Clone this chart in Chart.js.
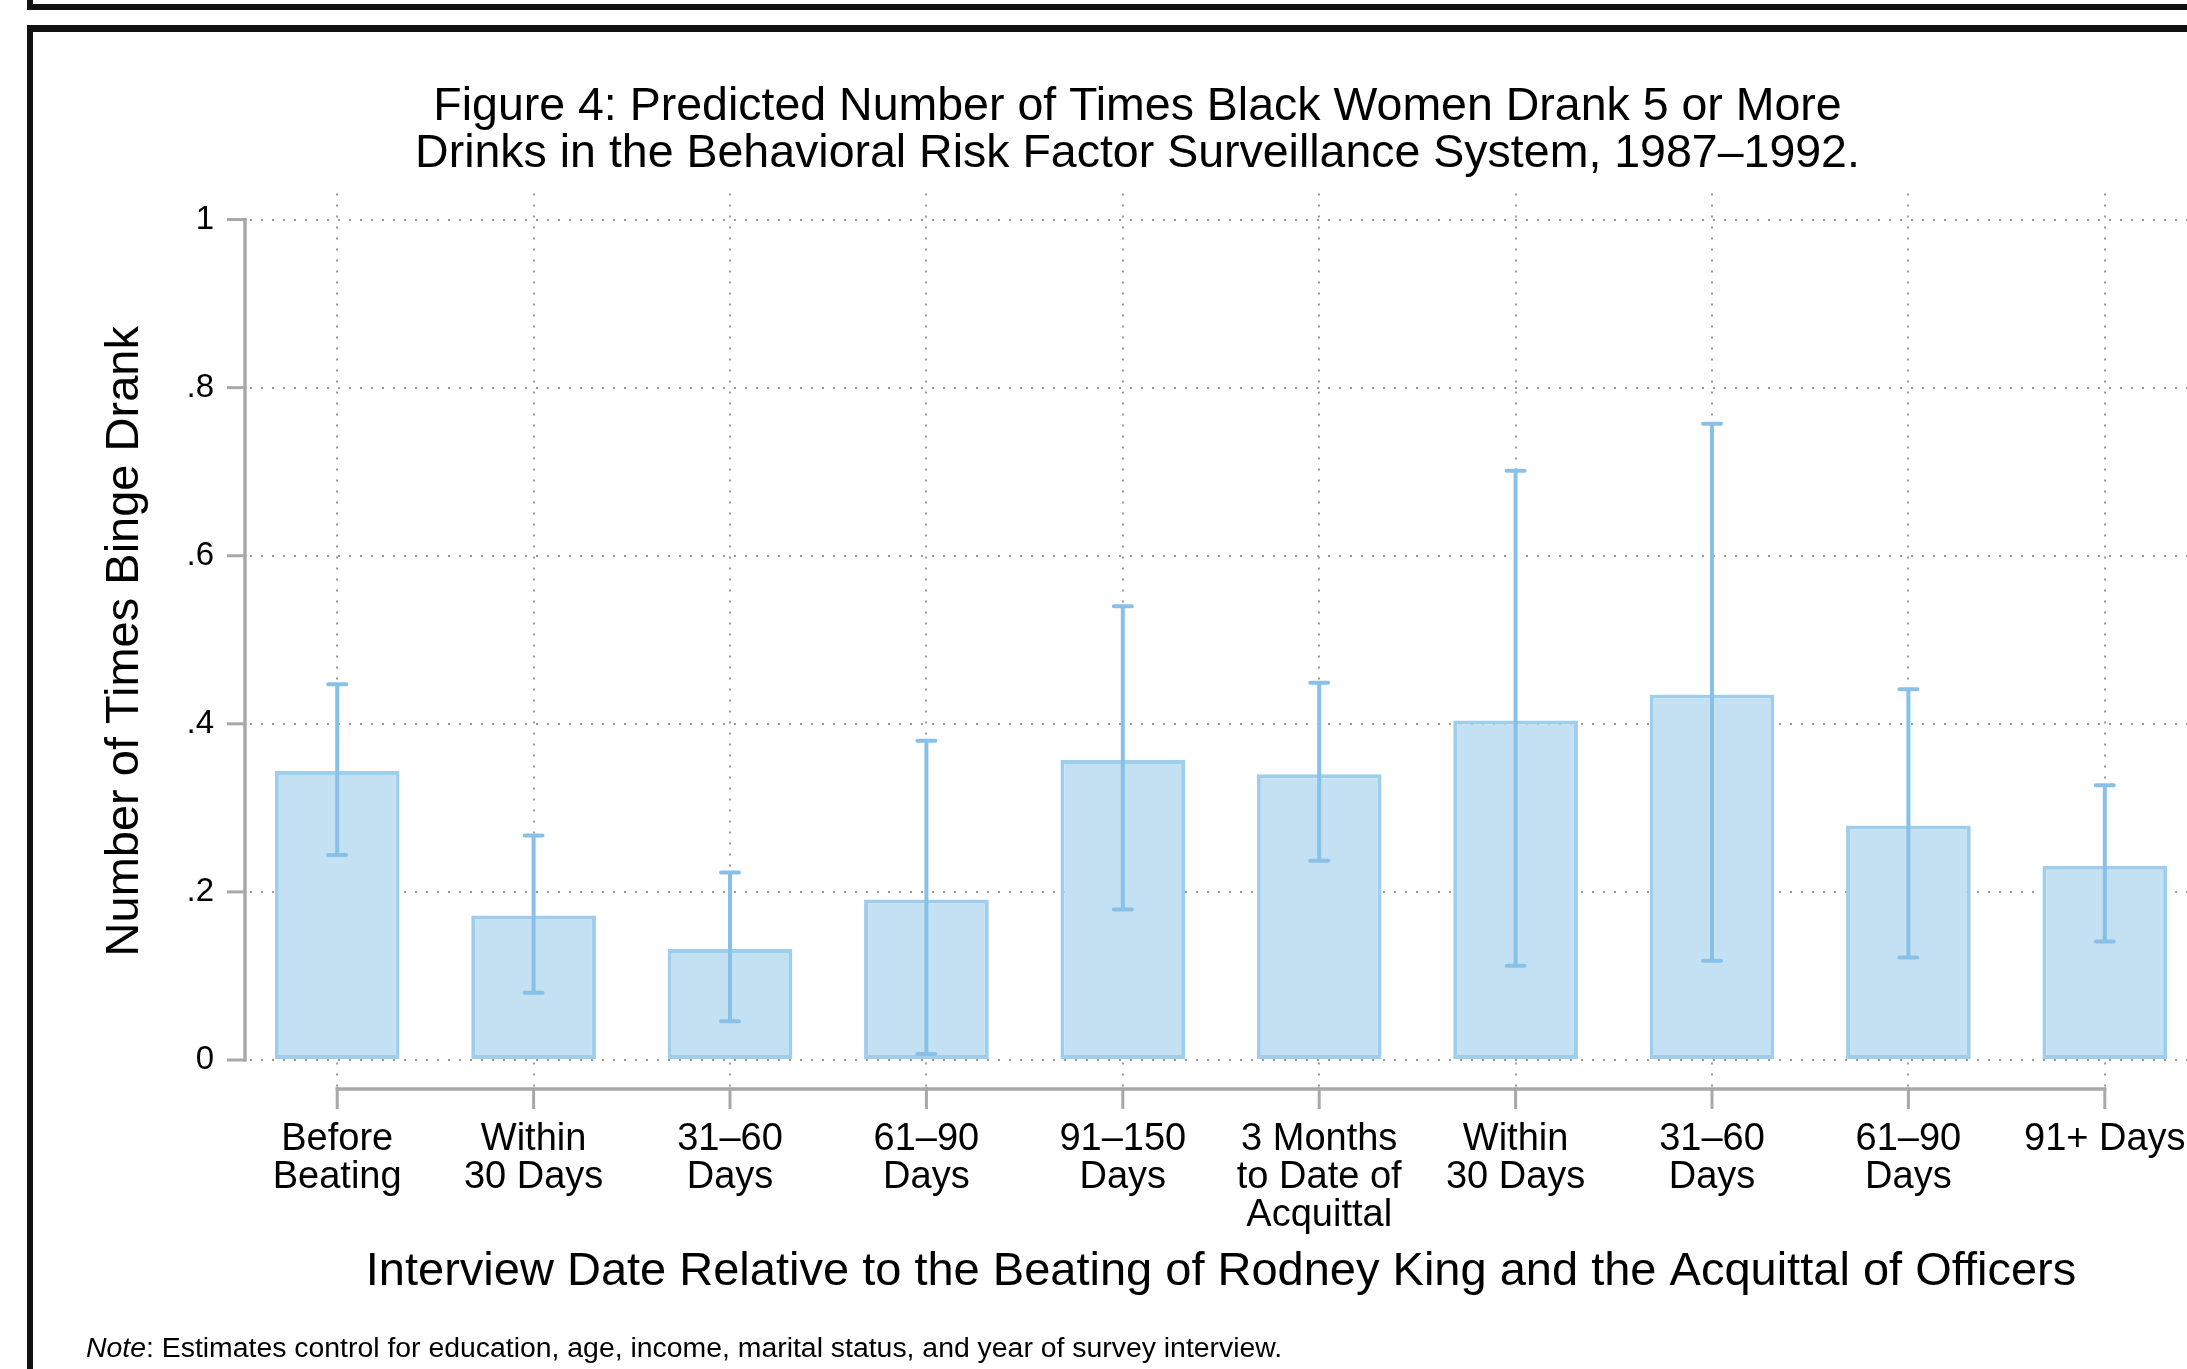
<!DOCTYPE html>
<html>
<head>
<meta charset="utf-8">
<script src="https://cdn.jsdelivr.net/npm/chart.js@4/dist/chart.umd.min.js"></script>
<style>
  html, body { margin: 0; padding: 0; background: #fff; overflow: hidden; }
  body { width: 2187px; height: 1369px; position: relative; }
  #chart { position: absolute; left: 0; top: 0; }
  .rule { position: absolute; background: #111; }
  #note {
    position: absolute; left: 86px; top: 1332px;
    font-family: "Liberation Sans", Arial, sans-serif; font-size: 28.4px; line-height: 30px;
    color: #000; white-space: nowrap;
  }
</style>
</head>
<body>
<!-- frame of the previous panel (bottom-left corner) -->
<div class="rule" style="left:27px; top:0; width:6px; height:10px;"></div>
<div class="rule" style="left:27px; top:4px; width:2200px; height:6px;"></div>
<!-- frame of this panel -->
<div class="rule" style="left:27px; top:25px; width:2200px; height:7px;"></div>
<div class="rule" style="left:27px; top:25px; width:6px; height:1400px;"></div>

<canvas id="chart" width="2220" height="1369" style="width:2220px;height:1369px;"></canvas>
<div id="note"><i>Note</i>: Estimates control for education, age, income, marital status, and year of survey interview.</div>

<script>
// Interview-date groups relative to the Rodney King beating / officers' acquittal
const categories = [
  ["Before", "Beating"],
  ["Within", "30 Days"],
  ["31\u201360", "Days"],
  ["61\u201390", "Days"],
  ["91\u2013150", "Days"],
  ["3 Months", "to Date of", "Acquittal"],
  ["Within", "30 Days"],
  ["31\u201360", "Days"],
  ["61\u201390", "Days"],
  ["91+ Days"]
];

// Predicted number of binge-drinking occasions and 95% confidence bounds
const predicted = [0.344, 0.172, 0.132, 0.191, 0.357, 0.340, 0.404, 0.435, 0.279, 0.231];
const ciLower   = [0.244, 0.080, 0.046, 0.007, 0.179, 0.237, 0.112, 0.118, 0.122, 0.141];
const ciUpper   = [0.447, 0.267, 0.223, 0.380, 0.540, 0.449, 0.701, 0.757, 0.441, 0.327];

const yTickValues = [0, 0.2, 0.4, 0.6, 0.8, 1];

const titleLines = [
  "Figure 4: Predicted Number of Times Black Women Drank 5 or More",
  "Drinks in the Behavioral Risk Factor Surveillance System, 1987\u20131992."
];
const yTitle = "Number of Times Binge Drank";
const xTitle = "Interview Date Relative to the Beating of Rodney King and the Acquittal of Officers";

const FONT = '"Liberation Sans", Arial, Helvetica, sans-serif';
const AXIS_GRAY = '#a8a8a8';
const GRID_GRAY = '#9c9c9c';
const ERR_BLUE = '#88c1e8';

Chart.defaults.font.family = FONT;
Chart.defaults.color = '#000';

// Axis lines drawn only over the data range (0..1 on y, first..last category on x)
const axisLines = {
  id: 'axisLines',
  afterDraw(chart) {
    const { ctx, chartArea, scales: { x, y } } = chart;
    const ax = chartArea.left + 6;
    ctx.save();
    ctx.strokeStyle = AXIS_GRAY;
    ctx.lineWidth = 3.5;
    ctx.lineCap = 'butt';
    // y axis
    ctx.beginPath();
    ctx.moveTo(ax, y.getPixelForValue(1) - 1.5);
    ctx.lineTo(ax, y.getPixelForValue(0) + 1.5);
    ctx.stroke();
    ctx.lineWidth = 3;
    yTickValues.forEach(v => {
      const py = y.getPixelForValue(v);
      ctx.beginPath();
      ctx.moveTo(ax - 18, py);
      ctx.lineTo(ax + 1.5, py);
      ctx.stroke();
    });
    // x axis
    const xb = chartArea.bottom;
    ctx.lineWidth = 3.5;
    ctx.beginPath();
    ctx.moveTo(x.getPixelForValue(0) - 1.5, xb);
    ctx.lineTo(x.getPixelForValue(categories.length - 1) + 1.5, xb);
    ctx.stroke();
    ctx.lineWidth = 3;
    categories.forEach((c, i) => {
      const px = x.getPixelForValue(i);
      ctx.beginPath();
      ctx.moveTo(px, xb - 1.5);
      ctx.lineTo(px, xb + 20);
      ctx.stroke();
    });
    ctx.restore();
  }
};

// Confidence-interval whiskers on top of each bar
const errorBars = {
  id: 'errorBars',
  afterDatasetsDraw(chart) {
    const { ctx, scales: { x, y } } = chart;
    ctx.save();
    ctx.strokeStyle = ERR_BLUE;
    ctx.lineWidth = 4;
    predicted.forEach((v, i) => {
      const px = x.getPixelForValue(i);
      const top = y.getPixelForValue(ciUpper[i]);
      const bot = y.getPixelForValue(ciLower[i]);
      ctx.lineCap = 'butt';
      ctx.beginPath();
      ctx.moveTo(px, top);
      ctx.lineTo(px, bot);
      ctx.stroke();
      ctx.lineCap = 'round';
      ctx.beginPath();
      ctx.moveTo(px - 9, top);
      ctx.lineTo(px + 9, top);
      ctx.moveTo(px - 9, bot);
      ctx.lineTo(px + 9, bot);
      ctx.stroke();
    });
    ctx.restore();
  }
};

new Chart(document.getElementById('chart'), {
  type: 'bar',
  data: {
    labels: categories,
    datasets: [{
      data: predicted,
      backgroundColor: '#c4e1f4',
      borderColor: '#9fcdec',
      borderWidth: 4,
      borderSkipped: false,
      barPercentage: 0.635,
      categoryPercentage: 1.0
    }]
  },
  options: {
    responsive: false,
    animation: false,
    devicePixelRatio: 1,
    layout: { padding: { left: 72, right: 17, top: 0, bottom: 0 } },
    plugins: {
      legend: { display: false },
      tooltip: { enabled: false },
      title: {
        display: true,
        text: titleLines,
        color: '#000',
        font: { family: FONT, size: 46.5, weight: 'normal', lineHeight: 1.0 },
        padding: { top: 84, bottom: 16.5 }
      }
    },
    scales: {
      x: {
        type: 'category',
        offset: true,
        afterFit(scale) { scale.height = 280; },
        grid: {
          offset: false,
          color: GRID_GRAY,
          lineWidth: 2,
          drawTicks: false
        },
        border: { display: false, dash: [2, 9] },
        ticks: {
          autoSkip: false,
          maxRotation: 0,
          minRotation: 0,
          padding: 32,
          color: '#000',
          font: { family: FONT, size: 38, lineHeight: 1.0 }
        },
        title: {
          display: true,
          text: xTitle,
          color: '#000',
          font: { family: FONT, size: 47, lineHeight: 1.0 },
          padding: { top: 0, bottom: 73 }
        }
      },
      y: {
        type: 'linear',
        min: -0.0345,
        max: 1.031,
        afterFit(scale) { scale.width = 167; },
        afterBuildTicks(scale) { scale.ticks = yTickValues.map(v => ({ value: v })); },
        grid: {
          color: GRID_GRAY,
          lineWidth: 2,
          drawTicks: false
        },
        border: { display: false, dash: [2, 9] },
        ticks: {
          padding: 25,
          color: '#000',
          font: { family: FONT, size: 33 },
          callback(v) {
            if (v === 0) return '0';
            if (v === 1) return '1';
            return '.' + Math.round(v * 10);
          }
        },
        title: {
          display: true,
          text: yTitle,
          color: '#000',
          font: { family: FONT, size: 47, lineHeight: 1.0 },
          padding: { top: 29.5, bottom: 0 }
        }
      }
    }
  },
  plugins: [errorBars, axisLines]
});
</script>
</body>
</html>
